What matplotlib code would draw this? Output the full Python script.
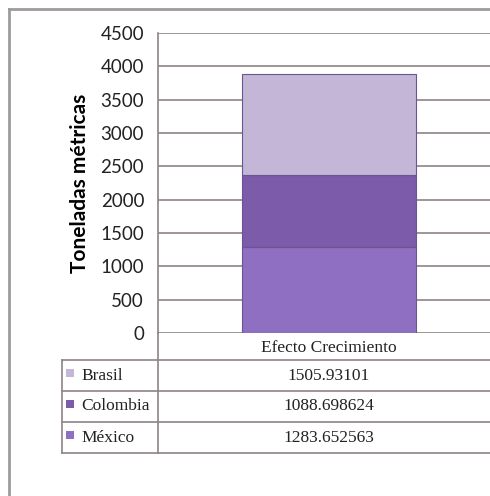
import matplotlib.pyplot as plt
from matplotlib.lines import Line2D
from matplotlib.patches import Rectangle

# Datos
categorias = ["Efecto Crecimiento"]
paises = ["Brasil", "Colombia", "México"]
valores = [1505.93101, 1088.698624, 1283.652563]
etiquetas = ["1505.93101", "1088.698624", "1283.652563"]
colores = ["#C3B6D6", "#7B5BAA", "#8F6FC2"]
yticks = [0, 500, 1000, 1500, 2000, 2500, 3000, 3500, 4000, 4500]

W, H = 490, 496
fig = plt.figure(figsize=(W / 100, H / 100), dpi=100)
fig.patch.set_facecolor("white")


def fx(px):
    return px / W


def fy(py):
    return 1 - py / H


grid_c = "#8E8484"

# Ejes del gráfico (se extiende a la derecha fuera de la imagen)
ax = fig.add_axes([fx(158), fy(333), fx(500 - 158), 300 / H])
ax.set_xlim(-0.4914, 0.4914)
ax.set_ylim(0, 4500)

# Apilado: México abajo, Colombia, Brasil arriba
orden = [2, 1, 0]
base = 0
for i in orden:
    ax.bar(0, valores[i], width=0.5, bottom=base, color=colores[i],
           edgecolor="#6A5590", linewidth=0.8, zorder=3)
    base += valores[i]

ax.set_yticks(yticks)
ax.set_yticklabels([str(v) for v in yticks], fontsize=13.5, family="Lato",
                   color="#222222")
ax.tick_params(axis="y", length=0, pad=10)
ax.set_xticks([])
ax.grid(axis="y", color=grid_c, linewidth=1.2, zorder=0)
for s in ["top", "right", "bottom"]:
    ax.spines[s].set_visible(False)
ax.spines["left"].set_color(grid_c)
ax.spines["left"].set_linewidth(1.2)
ax.set_ylabel("Toneladas métricas", fontsize=15, family="Lato",
              fontweight="bold")
ax.yaxis.set_label_coords((90 - 158) / (500 - 158), 0.5)

# Tabla de datos
def hline(y, x0, x1):
    fig.add_artist(Line2D([fx(x0), fx(x1)], [fy(y), fy(y)], color=grid_c,
                          linewidth=1.2))


def vline(x, y0, y1):
    fig.add_artist(Line2D([fx(x), fx(x)], [fy(y0), fy(y1)], color=grid_c,
                          linewidth=1.2))


hline(360, 62, 495)
hline(391, 62, 495)
hline(422, 62, 495)
hline(453, 62, 495)
vline(62, 360, 453)
vline(158, 333, 453)

fig.text(fx(329), fy(348), categorias[0], ha="center", va="center",
         fontsize=12.5, family="Liberation Serif", color="#222222")

filas = [375.5, 406.5, 437.5]
for k, nombre in enumerate(paises):
    yc = filas[k]
    fig.add_artist(Rectangle((fx(66), fy(yc + 1)), fx(8), 8 / H,
                             facecolor=colores[k], edgecolor="none"))
    fig.text(fx(81), fy(yc), nombre, ha="left", va="center", fontsize=12.5,
             family="Liberation Serif", color="#222222")
    fig.text(fx(329), fy(yc), etiquetas[k], ha="center", va="center",
             fontsize=12.5, family="Liberation Serif", color="#222222")

# Marco exterior
fig.add_artist(Line2D([fx(9), fx(9)], [fy(9), fy(500)], color="#A09A9A",
                      linewidth=2))
fig.add_artist(Line2D([fx(9), fx(495)], [fy(9), fy(9)], color="#A09A9A",
                      linewidth=2))

fig.savefig("out.png", dpi=100)
